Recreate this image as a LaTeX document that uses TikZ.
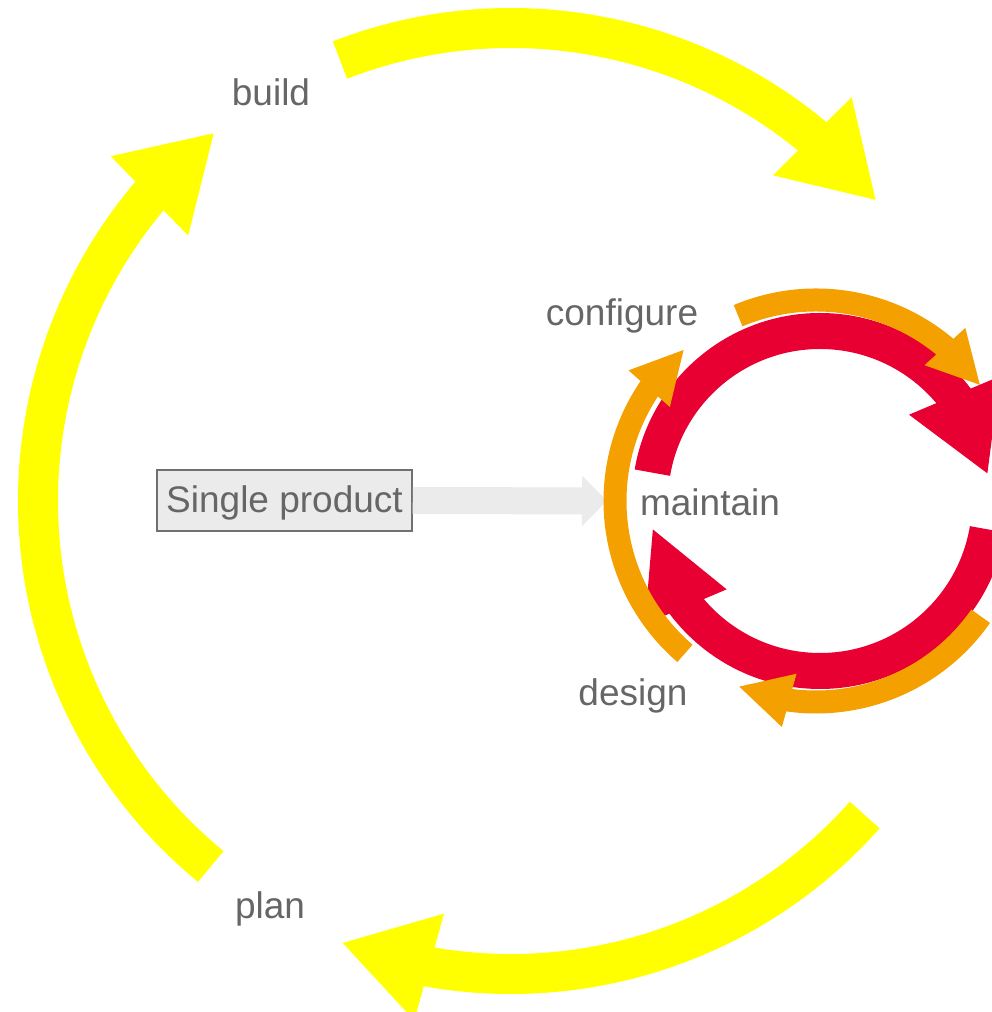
\documentclass[tikz,border=0pt]{standalone}
\usepackage{fontspec}
\setmainfont{Liberation Sans}
\usetikzlibrary{arrows.meta, bending, positioning}

\definecolor{cycleyellow}{HTML}{FFFF00}
\definecolor{cyclered}{HTML}{E90032}
\definecolor{cycleorange}{HTML}{F4A000}
\definecolor{labelgray}{HTML}{666666}
\definecolor{boxgray}{HTML}{EBEBEB}
\definecolor{boxline}{HTML}{707070}

\begin{document}
\begin{tikzpicture}[
    x=1pt, y=1pt,
    phase/.style={font=\fontsize{37}{44}\selectfont, text=labelgray, inner sep=0pt},
    box/.style={rectangle, draw=boxline, line width=1.5pt, fill=boxgray, minimum width=255pt, minimum height=61pt, inner sep=0pt, text height=33pt, text depth=8pt, font=\fontsize{37}{44}\selectfont, text=labelgray},
    bigloop/.style={cycleyellow, line width=40pt, -{Triangle[width=104pt, length=91pt, flex]}},
    redloop/.style={cyclered, line width=36pt, -{Triangle[width=#1, length=86pt, flex]}},
    redloop/.default=92pt,
    orangeloop/.style={cycleorange, line width=23pt, -{Triangle[width=51pt, length=53pt, flex]}},
    feedarrow/.style={boxgray, line width=27pt, -{Triangle[width=49pt, length=25pt]}}
]
\useasboundingbox (0,0) rectangle (992,1012);

% Centres of the two cycles
\coordinate (outerc) at (511,511);
\coordinate (innerc) at (820,511);
\coordinate (midc) at (816,511);

% Outer cycle
\draw[bigloop] ([shift={(230.6:473)}]outerc) arc[start angle=230.6, end angle=180, radius=473] arc[start angle=180, end angle=128.8, radius=473];
\draw[bigloop] ([shift={(111.2:473)}]outerc) arc[start angle=111.2, end angle=39.4, radius=473];
\draw[bigloop] ([shift={(-41.6:473)}]outerc) arc[start angle=-41.6, end angle=-111, radius=473];

% Single product box and feed arrow
\node[box] (product) at (284.5,511.5) {Single product};
\coordinate (feedend) at (607,511);
\draw[feedarrow] (product.east) -- (feedend);

% Inner cycle
\draw[redloop] ([shift={(170.4:170)}]innerc) arc[start angle=170.4, end angle=89, radius=170] arc[start angle=89, end angle=8.9, radius=170];
\draw[redloop=82pt] ([shift={(350.4:170)}]innerc) arc[start angle=350.4, end angle=270, radius=170] arc[start angle=270, end angle=189, radius=170];

% Middle cycle
\draw[orangeloop] ([shift={(229.3:201)}]midc) arc[start angle=229.3, end angle=180, radius=201] arc[start angle=180, end angle=130.9, radius=201];
\draw[orangeloop] ([shift={(112.8:201)}]midc) arc[start angle=112.8, end angle=35, radius=201];
\draw[orangeloop] ([shift={(-35:201)}]midc) arc[start angle=-35, end angle=-112.8, radius=201];

% Labels
\node[phase] (build) at (271,920) {build};
\node[phase] (plan) at (270,103) {plan};
\node[phase] (configure) at (622,696) {configure};
\node[phase] (design) at (633,316) {design};
\node[phase] (maintain) at (710,509.5) {maintain};
\end{tikzpicture}
\end{document}
